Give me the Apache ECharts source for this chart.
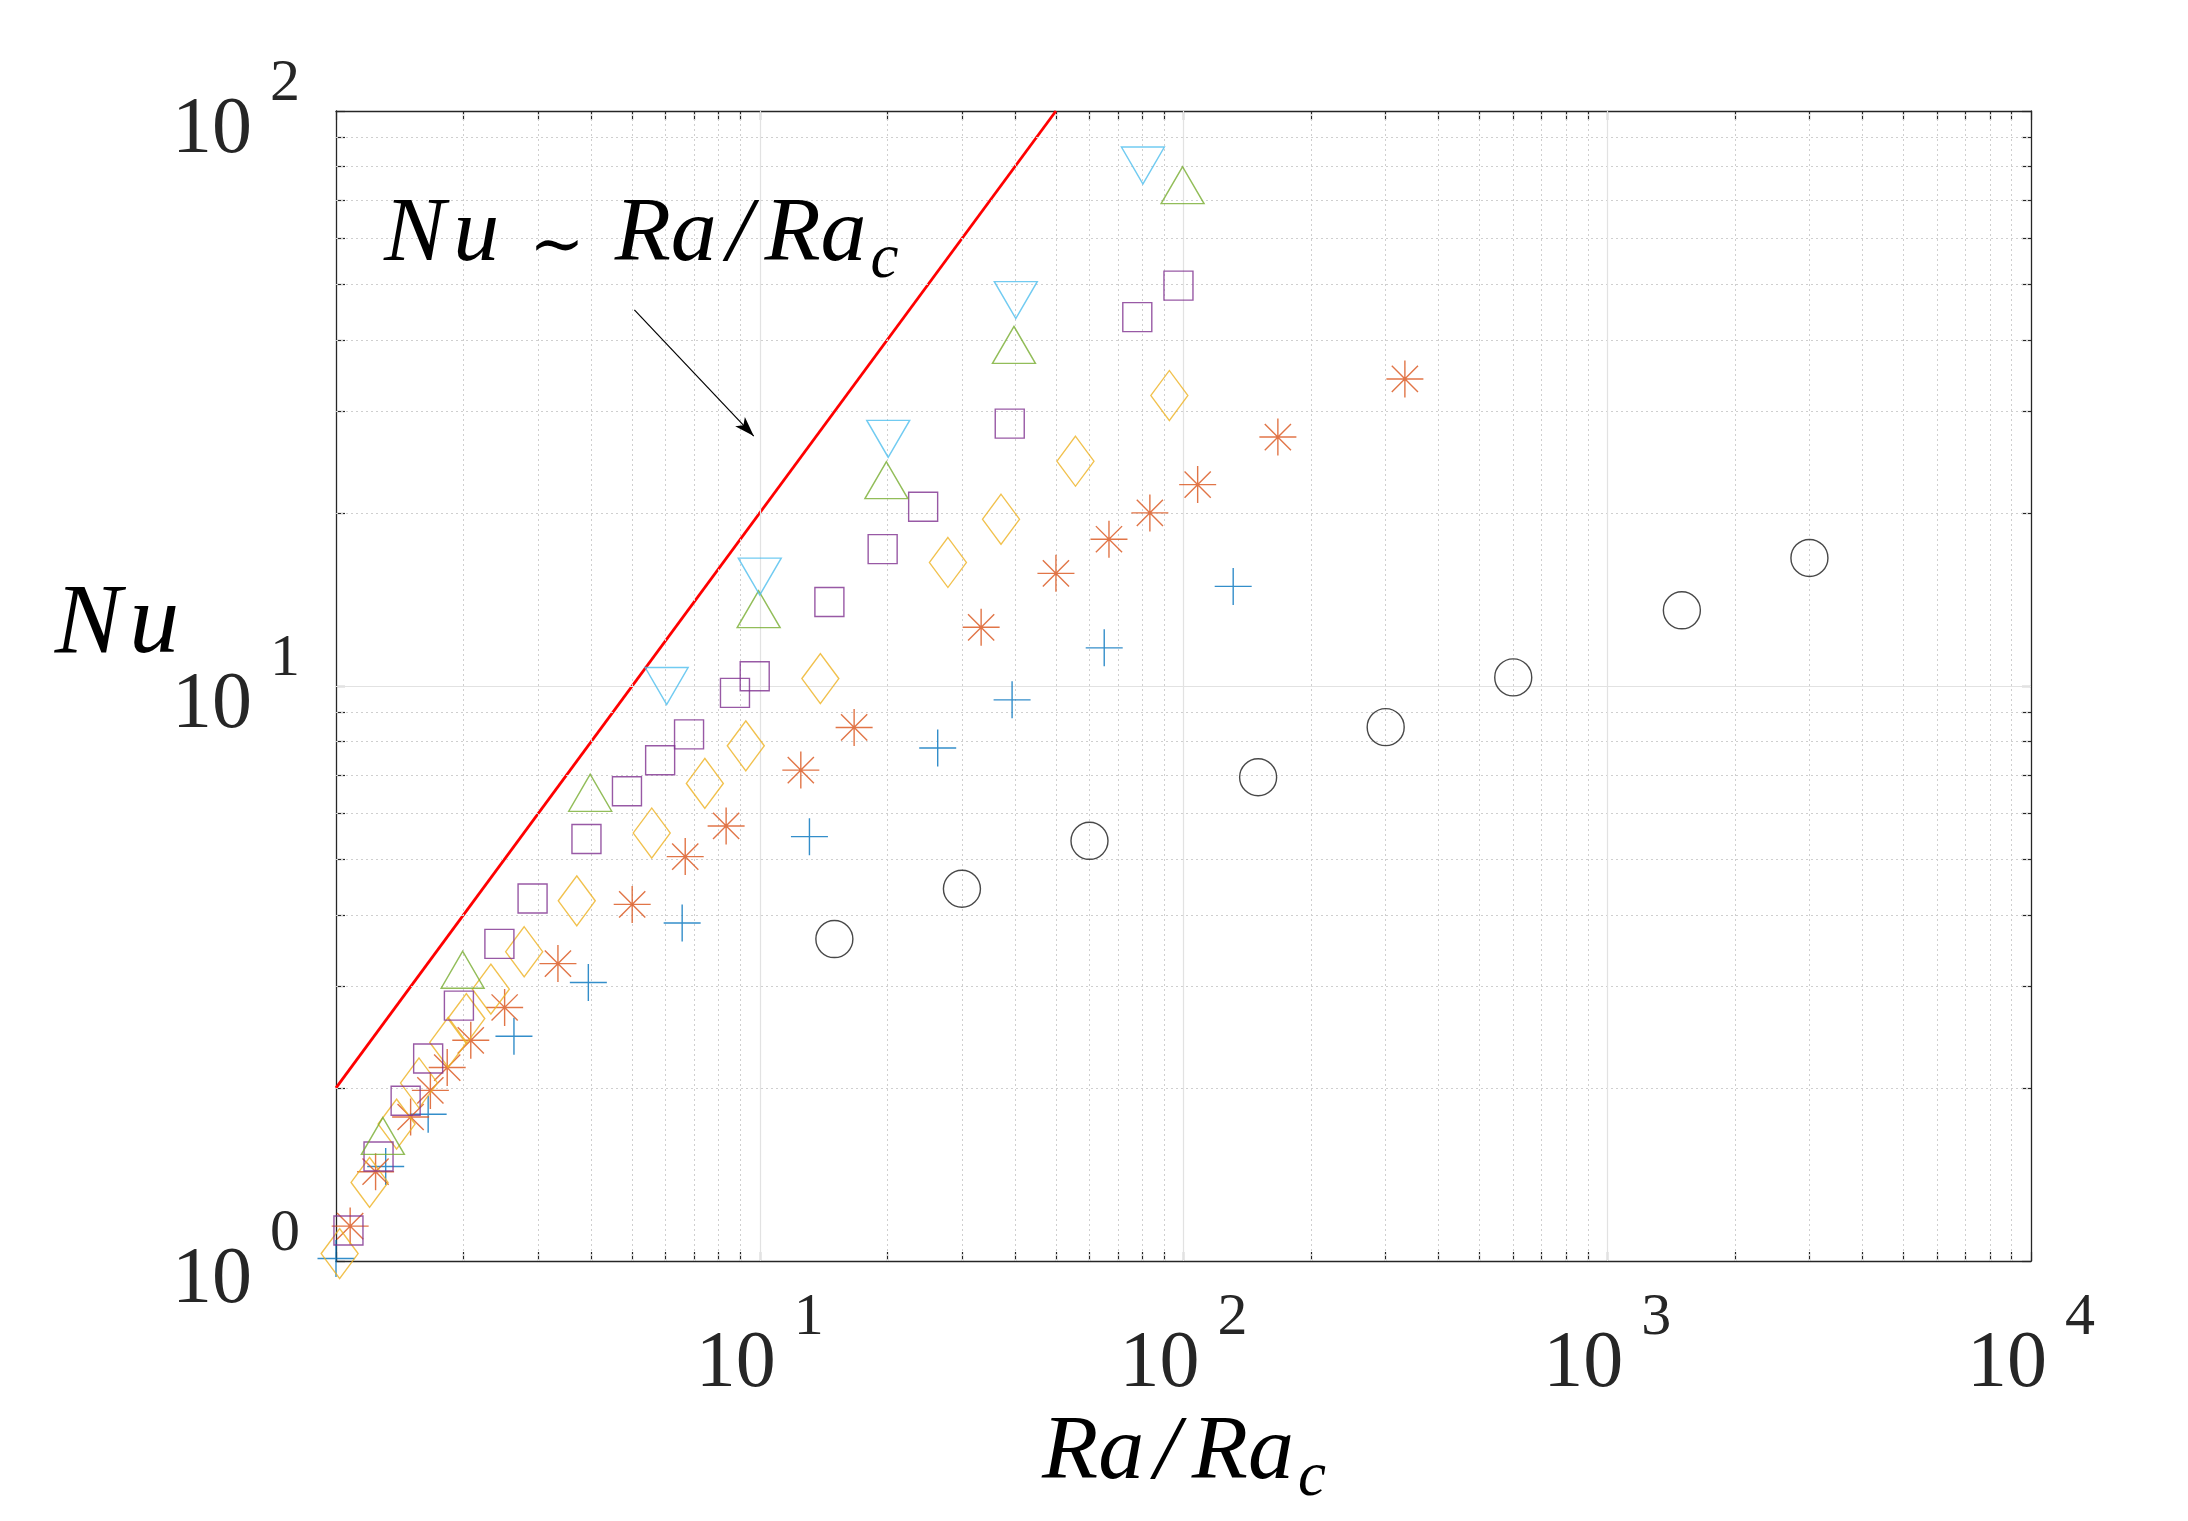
<!DOCTYPE html>
<html><head><meta charset="utf-8">
<script src="https://cdn.jsdelivr.net/npm/echarts@6/dist/echarts.min.js"></script>
<style>html,body{margin:0;padding:0;background:#fff}#c{width:2188px;height:1521px}</style>
</head><body><div id="c"></div>
<script>
// ---------- data ----------
const circleX = [15, 30, 60, 150, 300, 600, 1500, 3000];
const circleY = [3.63, 4.44, 5.38, 6.94, 8.48, 10.35, 13.54, 16.7];

const plusX = [1.0, 1.31, 1.65, 2.63, 3.94, 6.56, 13.1, 26.3, 39.4, 65, 131];
const plusY = [1.01, 1.46, 1.80, 2.46, 3.05, 3.87, 5.47, 7.8, 9.46, 11.65, 14.9];

const starX = [1.08, 1.24, 1.50, 1.67, 1.83, 2.08, 2.5, 3.34, 5.0, 6.67, 8.33, 12.5, 16.7, 33.3, 50, 66.7, 83.3, 108, 167, 333];
const starY = [1.15, 1.43, 1.78, 1.98, 2.17, 2.42, 2.76, 3.29, 4.17, 5.05, 5.71, 7.14, 8.47, 12.65, 15.7, 18.0, 20.0, 22.4, 27.1, 34.2];

const diamondX = [1.02, 1.20, 1.39, 1.57, 1.84, 2.03, 2.32, 2.78, 3.70, 5.56, 7.42, 9.27, 13.9, 27.8, 37.1, 55.6, 92.6];
const diamondY = [1.03, 1.37, 1.73, 2.04, 2.40, 2.64, 2.97, 3.45, 4.23, 5.55, 6.77, 7.87, 10.3, 16.4, 19.5, 24.6, 32.0];

const squareX = [1.07, 1.26, 1.46, 1.65, 1.95, 2.43, 2.91, 3.9, 4.86, 5.82, 6.81, 8.74, 9.73, 14.6, 19.5, 24.3, 38.9, 77.8, 97.3];
const squareY = [1.13, 1.52, 1.90, 2.25, 2.78, 3.56, 4.27, 5.42, 6.56, 7.43, 8.24, 9.73, 10.4, 14.0, 17.3, 20.5, 28.6, 43.8, 49.7];

const triUpX = [1.29, 1.99, 3.98, 9.94, 19.9, 39.8, 99.5];
const triUpY = [1.65, 3.21, 6.52, 13.6, 22.8, 39.2, 74.3];

const triDownX = [6.03, 10.0, 20.1, 40.2, 80.2];
const triDownY = [10.0, 15.5, 26.9, 46.9, 80.4];

// reference line Nu ~ Ra/Ra_c
const refLineX = [1, 50];
const refLineY = [2, 100];

// annotation arrow (data coordinates)
const arrowFrom = [5.06, 45.1];
const arrowTo = [9.68, 27.2];

// ---------- ticks ----------
const xTicks = [1,2,3,4,5,6,7,8,9,10,20,30,40,50,60,70,80,90,100,200,300,400,500,600,700,800,900,1000,2000,3000,4000,5000,6000,7000,8000,9000,10000];
const yTicks = [1,2,3,4,5,6,7,8,9,10,20,30,40,50,60,70,80,90,100];
const xMinorGrid = [2,3,4,5,6,7,8,9,20,30,40,50,60,70,80,90,200,300,400,500,600,700,800,900,2000,3000,4000,5000,6000,7000,8000,9000];
const yMinorGrid = [2,3,4,5,6,7,8,9,20,30,40,50,60,70,80,90];
const xMajorGrid = [10, 100, 1000];
const yMajorGrid = [10];
const xLabelValues = [10, 100, 1000, 10000];
const xLabelExps = ['1', '2', '3', '4'];
const yLabelValues = [1, 10, 100];
const yLabelExps = ['0', '1', '2'];

const axisColor = '#262626';
const SERIF = "'Liberation Serif', 'Times New Roman', serif";

function zip(xs, ys) { return xs.map((x, i) => [x, ys[i]]); }
function labelFor(values, exps) {
  return function (v) {
    const i = values.findIndex(t => Math.abs(t - v) / t < 1e-6);
    return i < 0 ? '' : '{b|10}{s|' + exps[i] + '}';
  };
}
const tickRich = {
  b: { fontFamily: SERIF, fontSize: 80, lineHeight: 80, color: axisColor, verticalAlign: 'bottom' },
  s: { fontFamily: SERIF, fontSize: 60, lineHeight: 60, color: axisColor, verticalAlign: 'bottom', padding: [0, 0, 57, 18] }
};

const PLUS = 'path://M0 5L10 5M5 0L5 10';
const STAR = 'path://M0 5L10 5M5 0L5 10M1.46 1.46L8.54 8.54M1.46 8.54L8.54 1.46';

function markerSeries(name, xs, ys, symbol, size, color, rotate) {
  return {
    name, type: 'scatter', data: zip(xs, ys), symbol, symbolSize: size,
    symbolRotate: rotate || 0, z: 5, silent: true,
    itemStyle: { color: 'rgba(0,0,0,0)', borderColor: color, borderWidth: 1.4 }
  };
}

function baseAxis(extra) {
  return Object.assign({
    type: 'log', logBase: 10,
    axisLine: { show: true, onZero: false, lineStyle: { color: axisColor, width: 1.3 } },
    splitLine: { show: false }, minorTick: { show: false }, minorSplitLine: { show: false }
  }, extra);
}

const mathRich = function (size) {
  const it = { fontFamily: SERIF, fontStyle: 'italic', fontSize: size, lineHeight: size, fill: '#000', verticalAlign: 'bottom' };
  return {
    m: Object.assign({}, it, { padding: [0, 0, 10, 0] }),
    mu: Object.assign({}, it, { padding: [0, 0, 10, 8] }),
    sl: Object.assign({}, it, { padding: [0, 12, 10, 10] }),
    t: { fontFamily: 'DejaVu Serif', fontSize: Math.round(size * 0.72), lineHeight: size, fill: '#000', verticalAlign: 'bottom', padding: [0, 30, 10, 30] },
    s: Object.assign({}, it, { fontSize: Math.round(size * 0.68), lineHeight: Math.round(size * 0.68), padding: [0, 0, 0, 4] })
  };
};

const chart = echarts.init(document.getElementById('c'), null, { renderer: 'canvas' });
chart.setOption({
  animation: false,
  backgroundColor: '#ffffff',
  grid: { left: 336, top: 111, width: 1695, height: 1150, containLabel: false },
  xAxis: [
    baseAxis({ min: 1, max: 10000, position: 'bottom',
      axisTick: { show: true, inside: true, length: 9, customValues: xTicks, lineStyle: { color: axisColor, width: 1.2 } },
      axisLabel: { show: true, customValues: xLabelValues, formatter: labelFor(xLabelValues, xLabelExps), margin: 64, rich: tickRich, hideOverlap: false } }),
    baseAxis({ min: 1, max: 10000, position: 'top',
      axisTick: { show: true, inside: true, length: 9, customValues: xTicks, lineStyle: { color: axisColor, width: 1.2 } },
      axisLabel: { show: false } })
  ],
  yAxis: [
    baseAxis({ min: 1, max: 100, position: 'left',
      axisTick: { show: true, inside: true, length: 9, customValues: yTicks, lineStyle: { color: axisColor, width: 1.2 } },
      axisLabel: { show: true, customValues: yLabelValues, formatter: labelFor(yLabelValues, yLabelExps), margin: 36, padding: [40, 0, 0, 0], rich: tickRich, hideOverlap: false } }),
    baseAxis({ min: 1, max: 100, position: 'right',
      axisTick: { show: true, inside: true, length: 9, customValues: yTicks, lineStyle: { color: axisColor, width: 1.2 } },
      axisLabel: { show: false } })
  ],
  series: [
    { // minor grid lines
      type: 'scatter', data: [], z: 1, silent: true,
      markLine: {
        silent: true, symbol: 'none', animation: false, label: { show: false },
        lineStyle: { color: '#cfcfcf', width: 1, type: [2, 3] },
        emphasis: { disabled: true },
        data: xMinorGrid.map(v => ({ xAxis: v })).concat(yMinorGrid.map(v => ({ yAxis: v })))
      }
    },
    { // major grid lines
      type: 'scatter', data: [], z: 1, silent: true,
      markLine: {
        silent: true, symbol: 'none', animation: false, label: { show: false },
        lineStyle: { color: '#e2e2e2', width: 1.2, type: 'solid' },
        emphasis: { disabled: true },
        data: xMajorGrid.map(v => ({ xAxis: v })).concat(yMajorGrid.map(v => ({ yAxis: v })))
      }
    },
    {
      name: 'Nu ~ Ra/Ra_c', type: 'line', data: zip(refLineX, refLineY), showSymbol: false, z: 3, silent: true,
      lineStyle: { color: '#ff0000', width: 2.8 }
    },
    { // annotation arrow
      type: 'scatter', data: [], z: 4, silent: true,
      markLine: {
        silent: true, symbol: ['none', 'arrow'], symbolSize: [10, 20], animation: false,
        label: { show: false }, emphasis: { disabled: true },
        lineStyle: { color: '#000', width: 1.2, type: 'solid' },
        itemStyle: { color: '#000' },
        data: [[{ coord: arrowFrom, symbol: 'none' }, { coord: arrowTo, symbol: 'arrow', symbolSize: [10, 20] }]]
      }
    },
    markerSeries('circle', circleX, circleY, 'circle', 37, '#1a1a1a'),
    markerSeries('plus', plusX, plusY, PLUS, 37, '#0072BD'),
    markerSeries('asterisk', starX, starY, STAR, 37, '#D95319'),
    markerSeries('diamond', diamondX, diamondY, 'diamond', [37, 50], '#EDB120'),
    markerSeries('square', squareX, squareY, 'rect', 29, '#7E2F8E'),
    markerSeries('triUp', triUpX, triUpY, 'triangle', [43, 37], '#77AC30'),
    markerSeries('triDown', triDownX, triDownY, 'triangle', [43, 37], '#4DBEEE', 180)
  ],
  graphic: [
    { type: 'text', x: 117, y: 636, z: 10, silent: true,
      style: { text: '{m|N}{mu|u}', align: 'center', verticalAlign: 'middle', rich: mathRich(100) } },
    { type: 'text', x: 1184, y: 1510, z: 10, silent: true,
      style: { text: '{m|Ra}{sl|/}{m|Ra}{s|c}', align: 'center', verticalAlign: 'bottom', rich: mathRich(92) } },
    { type: 'text', x: 384, y: 292, z: 10, silent: true,
      style: { text: '{m|N}{mu|u}{t|∼}{m|Ra}{sl|/}{m|Ra}{s|c}', align: 'left', verticalAlign: 'bottom', rich: mathRich(92) } }
  ]
});
</script></body></html>
